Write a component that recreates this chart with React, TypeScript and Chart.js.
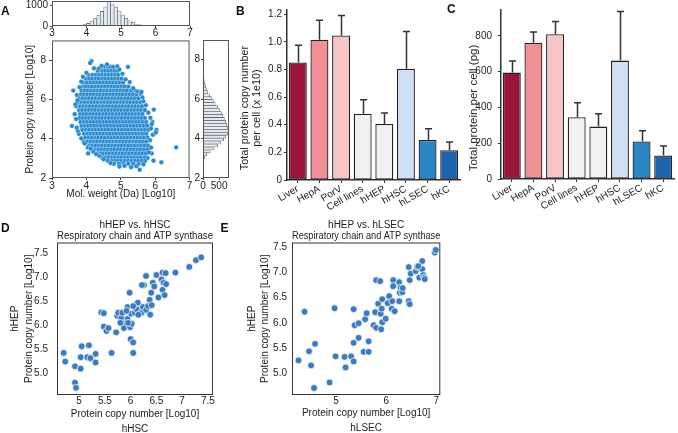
import React, { useEffect, useRef } from 'react';
import { Chart, registerables } from 'chart.js';

Chart.register(...registerables);

const FONT = "'Liberation Sans', Arial, Helvetica, sans-serif";
Chart.defaults.font.family = FONT;
Chart.defaults.font.size = 10;
Chart.defaults.color = '#222';

// ---------------- Panel A data ----------------
// rows of the scatter cloud: [copy number (Log10), mol. weight values (Log10)]
const cloudRows: [number, number[]][] = [
  [7.95, [4.15]],
  [7.85, [4.11]],
  [7.65, [4.52, 4.62, 4.70, 4.78, 5.21]],
  [7.45, [4.33, 4.46, 4.55, 4.64, 4.73, 4.82, 4.90]],
  [7.25, [4.06, 4.18, 4.28, 4.38, 4.47, 4.56, 4.65, 4.74, 4.83, 4.92]],
  [7.05, [3.98, 4.08, 4.17, 4.27, 4.36, 4.46, 4.55, 4.65, 4.74, 4.84, 4.93, 5.02]],
  [6.85, [3.92, 4.02, 4.12, 4.21, 4.31, 4.40, 4.50, 4.59, 4.69, 4.78, 4.88, 4.97, 5.07]],
  [6.65, [3.88, 3.97, 4.07, 4.16, 4.26, 4.35, 4.45, 4.54, 4.64, 4.73, 4.83, 4.92, 5.02, 5.11, 5.22]],
  [6.45, [3.62, 3.86, 3.95, 4.04, 4.14, 4.23, 4.33, 4.42, 4.52, 4.61, 4.71, 4.80, 4.90, 4.99, 5.08, 5.18, 5.30, 5.42]],
  [6.25, [3.84, 3.93, 4.02, 4.12, 4.21, 4.31, 4.40, 4.50, 4.59, 4.69, 4.78, 4.88, 4.97, 5.06, 5.16, 5.25, 5.35, 5.46]],
  [6.05, [3.80, 3.89, 3.99, 4.08, 4.18, 4.27, 4.37, 4.46, 4.56, 4.65, 4.75, 4.84, 4.94, 5.03, 5.13, 5.22, 5.32, 5.41, 5.51]],
  [5.85, [3.76, 3.86, 3.95, 4.05, 4.14, 4.24, 4.33, 4.43, 4.52, 4.62, 4.71, 4.81, 4.90, 5.00, 5.09, 5.19, 5.28, 5.38, 5.47, 5.57]],
  [5.65, [3.70, 3.82, 3.91, 4.01, 4.10, 4.20, 4.29, 4.39, 4.48, 4.58, 4.67, 4.77, 4.86, 4.96, 5.05, 5.15, 5.24, 5.34, 5.43, 5.53, 5.62]],
  [5.45, [3.79, 3.88, 3.98, 4.07, 4.17, 4.26, 4.36, 4.45, 4.55, 4.64, 4.74, 4.83, 4.93, 5.02, 5.12, 5.21, 5.31, 5.40, 5.50, 5.59, 5.70]],
  [5.25, [3.66, 3.82, 3.92, 4.01, 4.11, 4.20, 4.30, 4.39, 4.49, 4.58, 4.68, 4.77, 4.87, 4.96, 5.06, 5.15, 5.25, 5.34, 5.44, 5.53, 5.63]],
  [5.05, [3.80, 3.89, 3.99, 4.08, 4.18, 4.27, 4.37, 4.46, 4.56, 4.65, 4.75, 4.84, 4.94, 5.03, 5.13, 5.22, 5.32, 5.41, 5.51, 5.60, 5.70]],
  [4.85, [3.83, 3.93, 4.02, 4.12, 4.21, 4.31, 4.40, 4.50, 4.59, 4.69, 4.78, 4.88, 4.97, 5.07, 5.16, 5.26, 5.35, 5.45, 5.54, 5.64, 5.74, 5.92]],
  [4.65, [3.58, 3.86, 3.96, 4.05, 4.15, 4.24, 4.34, 4.43, 4.53, 4.62, 4.72, 4.81, 4.91, 5.00, 5.10, 5.19, 5.29, 5.38, 5.48, 5.57, 5.67, 5.77]],
  [4.45, [3.88, 3.99, 4.08, 4.18, 4.27, 4.37, 4.46, 4.56, 4.65, 4.75, 4.84, 4.94, 5.03, 5.13, 5.22, 5.32, 5.41, 5.51, 5.60, 5.70, 5.80, 6.04]],
  [4.25, [3.78, 3.93, 4.03, 4.12, 4.22, 4.31, 4.41, 4.50, 4.60, 4.69, 4.79, 4.88, 4.98, 5.07, 5.17, 5.26, 5.36, 5.45, 5.55, 5.64, 5.74, 5.98]],
  [4.05, [3.97, 4.07, 4.16, 4.26, 4.35, 4.45, 4.54, 4.64, 4.73, 4.83, 4.92, 5.02, 5.11, 5.21, 5.30, 5.40, 5.49, 5.59, 5.68, 5.78]],
  [3.85, [3.92, 4.03, 4.12, 4.22, 4.31, 4.41, 4.50, 4.60, 4.69, 4.79, 4.88, 4.98, 5.07, 5.17, 5.26, 5.36, 5.45, 5.55, 5.64, 5.74]],
  [3.65, [4.08, 4.18, 4.27, 4.37, 4.46, 4.56, 4.65, 4.75, 4.84, 4.94, 5.03, 5.13, 5.22, 5.32, 5.41, 5.51, 5.60, 5.70, 5.79]],
  [3.45, [4.15, 4.25, 4.35, 4.44, 4.54, 4.63, 4.73, 4.82, 4.92, 5.01, 5.11, 5.20, 5.30, 5.39, 5.49, 5.58, 5.68, 5.78]],
  [3.25, [4.05, 4.30, 4.40, 4.49, 4.59, 4.68, 4.78, 4.87, 4.97, 5.06, 5.16, 5.25, 5.35, 5.44, 5.54, 5.63, 5.73, 5.90]],
  [3.05, [4.45, 4.55, 4.64, 4.74, 4.83, 4.93, 5.02, 5.12, 5.21, 5.31, 5.40, 5.50, 5.59, 5.70]],
  [2.88, [4.62, 4.74, 4.84, 4.93, 5.03, 5.12, 5.22, 5.31, 5.41, 5.51, 5.62, 5.95]],
  [2.72, [4.80, 4.95, 5.08, 5.22, 5.36, 5.52]],
  [2.80, [6.18]],
  [3.56, [6.61]],
  [2.42, [5.55]],
];
// scattered points round the edge of the cloud: [mol. weight, copy number]
const cloudEdge: [number, number][] = [
  [3.68, 5.75], [3.74, 5.95], [3.75, 4.40], [3.85, 6.90], [3.90, 7.15], [4.00, 7.35], [4.22, 7.58], [4.36, 7.57],
  [4.90, 7.68], [4.96, 7.52], [5.05, 7.30], [5.14, 7.02], [5.26, 6.88], [5.36, 6.57], [5.50, 6.40], [5.58, 6.28],
  [5.63, 6.10], [5.66, 5.90], [5.73, 5.70], [5.80, 5.32], [5.86, 5.06], [5.90, 4.74], [5.88, 4.52], [5.93, 4.20],
  [5.85, 3.92], [5.88, 3.55], [5.82, 3.30], [5.78, 3.02], [5.71, 2.86], [5.45, 2.60], [5.30, 2.55], [5.11, 2.62],
  [4.96, 2.58], [4.70, 2.76], [4.50, 2.95], [4.36, 3.14], [4.20, 3.34], [4.04, 3.55], [3.95, 3.76], [3.85, 4.02],
  [3.72, 4.56], [3.70, 5.00], [3.72, 6.22], [3.80, 6.62], [4.44, 7.70], [4.60, 7.78], [5.60, 6.38], [5.96, 5.48],
  [6.02, 4.32], [4.12, 3.50], [4.28, 3.22], [5.66, 2.70],
];

const molBinCenters = [3.65, 3.75, 3.85, 3.95, 4.05, 4.15, 4.25, 4.35, 4.45, 4.55, 4.65, 4.75, 4.85, 4.95, 5.05, 5.15, 5.25, 5.35, 5.45, 5.55, 5.65, 5.75, 5.85, 5.95];
const molBinCounts = [5, 15, 35, 70, 130, 220, 360, 530, 720, 930, 1200, 1080, 940, 740, 540, 380, 260, 165, 100, 60, 35, 18, 9, 4];

const copyBinCenters = [2.75, 2.9, 3.05, 3.2, 3.35, 3.5, 3.65, 3.8, 3.95, 4.1, 4.25, 4.4, 4.55, 4.7, 4.85, 5.0, 5.15, 5.3, 5.45, 5.6, 5.75, 5.9, 6.05, 6.2, 6.35, 6.5, 6.65, 6.8, 6.95, 7.1, 7.25, 7.4];
const copyBinCounts = [8, 25, 55, 120, 220, 340, 450, 540, 640, 700, 760, 785, 770, 730, 700, 660, 620, 570, 510, 450, 380, 320, 260, 200, 150, 110, 80, 55, 35, 20, 10, 4];

const aXTicks = [3, 4, 5, 6, 7];
const aYTicks = [2, 4, 6, 8];
const topHistTicks = [0, 1000];
const rightHistTicks = [0, 500];

// ---------------- Panels B / C data ----------------
const cellTypes = ['Liver', 'HepA', 'PorV', 'Cell lines', 'hHEP', 'hHSC', 'hLSEC', 'hKC'];
const cellColors = ['#9b1538', '#f08f94', '#f8c5c7', '#f0f0f0', '#f0f0f0', '#d0e0f3', '#2a86c3', '#1e63ad'];
const copyTotal = [0.85, 1.015, 1.045, 0.48, 0.405, 0.805, 0.29, 0.215];
const copyTotalUpper = [0.975, 1.155, 1.19, 0.58, 0.485, 1.075, 0.37, 0.275];
const proteinMass = [595, 762, 810, 345, 293, 662, 210, 132];
const proteinMassUpper = [660, 822, 880, 427, 365, 936, 270, 185];
const bTicks = [0, 0.2, 0.4, 0.6, 0.8, 1.0, 1.2];
const cTicks = [0, 200, 400, 600, 800];

// ---------------- Panels D / E data ----------------
// [hHSC, hHEP]
const hscVsHep: [number, number][] = [
  [4.70, 5.42], [4.73, 5.24], [4.92, 5.14], [4.92, 4.80], [4.94, 4.69], [5.05, 5.56], [5.03, 5.33], [5.03, 5.09],
  [5.16, 5.33], [5.19, 5.58], [5.22, 5.31], [5.32, 5.40], [5.32, 5.22], [5.63, 5.42], [5.43, 6.27], [5.48, 6.25],
  [5.48, 5.97], [5.53, 5.88], [5.57, 5.94], [5.72, 5.85], [5.74, 6.20], [5.76, 6.26], [5.82, 6.15], [5.84, 6.26],
  [5.87, 6.04], [5.87, 5.94], [5.94, 6.38], [5.94, 6.13], [5.98, 6.68], [5.99, 5.96], [6.00, 5.71], [6.05, 5.64],
  [6.05, 5.42], [6.01, 6.24], [6.02, 6.03], [6.08, 6.26], [6.10, 6.42], [6.12, 6.33], [6.14, 6.47], [6.21, 6.26],
  [6.24, 6.38], [6.26, 6.84], [6.30, 6.32], [6.30, 7.03], [6.34, 6.40], [6.37, 6.53], [6.38, 6.22], [6.40, 6.68],
  [6.43, 6.89], [6.46, 6.81], [6.50, 7.05], [6.54, 6.58], [6.60, 6.96], [6.62, 7.10], [6.62, 6.74], [6.64, 6.89],
  [6.66, 6.63], [6.68, 7.09], [6.69, 6.86], [6.87, 7.10], [7.14, 7.22], [7.27, 7.36], [7.37, 7.42], [6.41, 6.42],
  [6.22, 6.84], [5.92, 6.30], [6.05, 6.40], [6.15, 6.22], [5.80, 6.05], [5.95, 6.05],
];
// [hLSEC, hHEP]
const lsecVsHep: [number, number][] = [
  [4.25, 5.25], [4.37, 6.22], [4.46, 5.43], [4.50, 5.15], [4.58, 5.58], [4.56, 4.70], [4.87, 4.81], [4.97, 6.29],
  [4.99, 5.33], [5.17, 5.32], [5.19, 5.11], [5.30, 5.33], [5.35, 5.23], [5.35, 5.60], [5.35, 6.27], [5.37, 5.95],
  [5.45, 5.99], [5.45, 5.70], [5.55, 5.42], [5.58, 6.07], [5.61, 6.19], [5.65, 5.63], [5.65, 5.42], [5.75, 5.95],
  [5.78, 6.21], [5.80, 6.85], [5.80, 5.90], [5.84, 6.38], [5.88, 6.83], [5.89, 6.18], [5.90, 5.87], [5.91, 6.28],
  [5.92, 6.47], [5.92, 6.01], [5.99, 6.08], [6.03, 6.39], [6.06, 6.53], [6.11, 6.28], [6.12, 6.43], [6.14, 6.85],
  [6.14, 6.73], [6.17, 6.23], [6.26, 6.81], [6.26, 6.43], [6.27, 6.60], [6.29, 6.70], [6.32, 6.61], [6.33, 6.69],
  [6.45, 7.11], [6.45, 6.43], [6.47, 6.37], [6.47, 6.85], [6.49, 6.98], [6.59, 7.03], [6.62, 7.11], [6.66, 6.90],
  [6.72, 7.23], [6.72, 7.07], [6.74, 6.95], [6.76, 6.90], [6.77, 6.87], [6.97, 7.40], [6.99, 7.45], [6.64, 7.13],
];
const dXTicks = [5, 5.5, 6, 6.5, 7, 7.5];
const dYTicks = [5.0, 5.5, 6.0, 6.5, 7.0, 7.5];
const eXTicks = [5, 6, 7];
const eYTicks = [5.0, 5.5, 6.0, 6.5, 7.0, 7.5];

// ---------------- helpers ----------------
const fixedTicks = (vals: number[]) => (s: any) => {
  s.ticks = vals.map((v) => ({ value: v }));
};
const fitW = (w: number) => (s: any) => {
  s.width = w;
  s.paddingTop = 0; s.paddingBottom = 0; s.paddingLeft = 0; s.paddingRight = 0;
};
const fitH = (h: number) => (s: any) => {
  s.height = h;
  s.paddingTop = 0; s.paddingBottom = 0; s.paddingLeft = 0; s.paddingRight = 0;
};

const framePlugin = (color: string, width = 1) => ({
  id: 'frame',
  afterDraw(chart: any) {
    const { ctx, chartArea } = chart;
    const { left, top, right, bottom } = chartArea;
    ctx.save();
    ctx.strokeStyle = color;
    ctx.lineWidth = width;
    ctx.strokeRect(left + 0.5, top + 0.5, right - left - 1, bottom - top - 1);
    ctx.restore();
  },
});

const errorBarPlugin = (upper: number[]) => ({
  id: 'errbars',
  afterDatasetsDraw(chart: any) {
    const { ctx } = chart;
    const meta = chart.getDatasetMeta(0);
    const yScale = chart.scales.y;
    ctx.save();
    ctx.strokeStyle = '#333';
    ctx.lineWidth = 1.5;
    meta.data.forEach((bar: any, i: number) => {
      const x = Math.round(bar.x) + 0.5;
      const yTop = yScale.getPixelForValue(upper[i]);
      ctx.beginPath();
      ctx.moveTo(x, bar.y);
      ctx.lineTo(x, yTop);
      ctx.moveTo(x - 3.5, yTop);
      ctx.lineTo(x + 3.5, yTop);
      ctx.stroke();
    });
    ctx.restore();
  },
});

const base = {
  responsive: false,
  animation: false as const,
  devicePixelRatio: 1,
  events: [] as any[],
};
const noLegend = { legend: { display: false }, tooltip: { enabled: false } };
const tickGrid = (len: number, color = '#444') => ({
  display: true, drawOnChartArea: false, drawTicks: true, tickLength: len, color, offset: false,
});
const noGrid = { display: false, drawTicks: false, drawOnChartArea: false };

// ---------------- chart configs ----------------
const cloudPoints = [
  ...cloudRows.flatMap(([y, xs]) => xs.map((x) => ({ x, y }))),
  ...cloudEdge.map(([x, y]) => ({ x, y })),
];

const aMainConfig = (): any => ({
  type: 'scatter',
  data: {
    datasets: [{
      data: cloudPoints, pointRadius: 2.4, pointBackgroundColor: '#2a8ad0',
      pointBorderColor: 'rgba(255,255,255,0.75)', pointBorderWidth: 0.45,
    }],
  },
  options: {
    ...base,
    layout: { padding: { left: 0, top: 4, right: 4, bottom: 0 } },
    plugins: noLegend,
    scales: {
      x: {
        type: 'linear', min: 3, max: 7, afterBuildTicks: fixedTicks(aXTicks), afterFit: fitH(23),
        border: { display: false }, grid: tickGrid(2), ticks: { padding: 0 },
        title: { display: true, text: 'Mol. weight (Da) [Log10]', padding: { top: 0, bottom: 1 }, font: { size: 10 } },
      },
      y: {
        type: 'linear', min: 2, max: 9, afterBuildTicks: fixedTicks(aYTicks), afterFit: fitW(52),
        border: { display: false }, grid: tickGrid(3), ticks: { padding: 3 },
        title: { display: true, text: 'Protein copy number [Log10]', padding: { top: 24, bottom: 0 }, font: { size: 10 } },
      },
    },
  },
  plugins: [framePlugin('#555')],
});

const aTopConfig = (): any => ({
  type: 'bar',
  data: {
    datasets: [{
      data: molBinCenters.map((c, i) => ({ x: c, y: molBinCounts[i] })),
      backgroundColor: '#e2e9f0', borderColor: '#555', borderWidth: 0.6,
      barPercentage: 1, categoryPercentage: 1,
    }],
  },
  options: {
    ...base,
    layout: { padding: { left: 0, top: 1, right: 4, bottom: 0 } },
    plugins: noLegend,
    scales: {
      x: {
        type: 'linear', min: 3, max: 7, offset: false, afterBuildTicks: fixedTicks(aXTicks), afterFit: fitH(14),
        border: { display: false }, grid: tickGrid(2), ticks: { padding: -1 },
      },
      y: {
        type: 'linear', min: 0, max: 1230, afterBuildTicks: fixedTicks(topHistTicks), afterFit: fitW(52),
        border: { display: false }, grid: tickGrid(2), ticks: { padding: 2, callback: (v: any) => String(v) },
      },
    },
  },
  plugins: [framePlugin('#555')],
});

const aRightConfig = (): any => ({
  type: 'bar',
  data: {
    datasets: [{
      data: copyBinCenters.map((c, i) => ({ y: c, x: copyBinCounts[i] })),
      backgroundColor: '#e2e9f0', borderColor: '#555', borderWidth: 0.6,
      barPercentage: 1, categoryPercentage: 1,
    }],
  },
  options: {
    ...base,
    indexAxis: 'y',
    layout: { padding: { left: 0, top: 4, right: 3, bottom: 0 } },
    plugins: noLegend,
    scales: {
      y: {
        type: 'linear', min: 2, max: 9, offset: false, afterBuildTicks: fixedTicks(aYTicks), afterFit: fitW(13),
        border: { display: false }, grid: tickGrid(2), ticks: { padding: 1 },
      },
      x: {
        type: 'linear', min: 0, max: 805, afterBuildTicks: fixedTicks(rightHistTicks), afterFit: fitH(23),
        border: { display: false }, grid: tickGrid(2), ticks: { padding: 0, callback: (v: any) => String(v) },
      },
    },
  },
  plugins: [framePlugin('#555')],
});

const barConfig = (
  values: number[], upper: number[], max: number, ticks: number[], fmt: (v: number) => string,
  yW: number, tickPad: number, rightPad: number, xH: number,
): any => ({
  type: 'bar',
  data: {
    labels: cellTypes,
    datasets: [{
      data: values, backgroundColor: cellColors, borderColor: '#222', borderWidth: 1.3,
      barPercentage: 0.83, categoryPercentage: 1, borderSkipped: false,
    }],
  },
  options: {
    ...base,
    layout: { padding: { left: 0, top: 10, right: rightPad, bottom: 0 } },
    plugins: noLegend,
    scales: {
      x: {
        afterFit: fitH(xH), grid: tickGrid(3, '#333'), border: { display: true, color: '#333', width: 1.5 },
        ticks: { minRotation: 30, maxRotation: 30, autoSkip: false, padding: 0, font: { size: 10 } },
      },
      y: {
        type: 'linear', min: 0, max, afterBuildTicks: fixedTicks(ticks), afterFit: fitW(yW),
        grid: tickGrid(3, '#333'), border: { display: true, color: '#333', width: 1.5 },
        ticks: { padding: tickPad, callback: (v: any) => fmt(Number(v)) },
      },
    },
  },
  plugins: [errorBarPlugin(upper)],
});

const scatterConfig = (
  pts: [number, number][], title: string[], xr: [number, number], yr: [number, number],
  xt: number[], yt: number[], xTitle: string[], yW: number, yTitlePad: number, yTickPad: number,
  xTitlePad: number, rightPad: number,
): any => ({
  type: 'scatter',
  data: {
    datasets: [{
      data: pts.map(([x, y]) => ({ x, y })), pointRadius: 3.4, pointBackgroundColor: '#3b7bbf',
      pointBorderColor: '#ffffff', pointBorderWidth: 0.7,
    }],
  },
  options: {
    ...base,
    layout: { padding: { left: 0, top: 0, right: rightPad, bottom: 0 } },
    plugins: {
      ...noLegend,
      title: {
        display: true, text: title, fullSize: false, color: '#222',
        padding: { top: 4.5, bottom: 1 }, font: { size: 10, weight: 'normal', lineHeight: 1.1 },
      },
    },
    scales: {
      x: {
        type: 'linear', min: xr[0], max: xr[1], afterBuildTicks: fixedTicks(xt), afterFit: fitH(45),
        grid: noGrid, border: { display: false }, ticks: { padding: 0, callback: (v: any) => String(v) },
        title: { display: true, text: xTitle, padding: { top: 0, bottom: xTitlePad }, font: { size: 10, lineHeight: 1.5 } },
      },
      y: {
        type: 'linear', min: yr[0], max: yr[1], afterBuildTicks: fixedTicks(yt), afterFit: fitW(yW),
        grid: noGrid, border: { display: false }, ticks: { padding: yTickPad, callback: (v: any) => Number(v).toFixed(1) },
        title: { display: true, text: ['hHEP', 'Protein copy number [Log10]'], padding: { top: yTitlePad, bottom: 0 }, font: { size: 10, lineHeight: 1.35 } },
      },
    },
  },
  plugins: [framePlugin('#333')],
});

// ---------------- components ----------------
function ChartCanvas({ left, top, width, height, make }: { left: number; top: number; width: number; height: number; make: () => any }) {
  const ref = useRef<HTMLCanvasElement>(null);
  useEffect(() => {
    const chart = new Chart(ref.current as HTMLCanvasElement, make());
    return () => chart.destroy();
  }, []);
  return (
    <canvas
      ref={ref}
      width={width}
      height={height}
      style={{ position: 'absolute', left, top, width, height }}
    />
  );
}

function Letter({ children, left, top }: { children: string; left: number; top: number }) {
  return (
    <div style={{ position: 'absolute', left, top, fontSize: 12, lineHeight: '12px', fontWeight: 'bold', color: '#111', fontFamily: FONT }}>
      {children}
    </div>
  );
}

// vertical (rotated) axis title centred on (cx, cy)
function VText({ children, cx, cy, size }: { children: string; cx: number; cy: number; size: number }) {
  const W = 200;
  const H = 14;
  return (
    <div
      style={{
        position: 'absolute', left: cx - W / 2, top: cy - H / 2, width: W, height: H,
        transform: 'rotate(-90deg)', transformOrigin: '50% 50%', textAlign: 'center',
        whiteSpace: 'nowrap', fontSize: size, lineHeight: `${H}px`, fontFamily: FONT, color: '#222',
      }}
    >
      {children}
    </div>
  );
}

export default function App() {
  return (
    <div style={{ position: 'fixed', left: 0, top: 0, width: 678, height: 433, overflow: 'hidden', background: '#fff' }}>
      <ChartCanvas left={0} top={0} width={194} height={40} make={aTopConfig} />
      <ChartCanvas left={0} top={36} width={194} height={165} make={aMainConfig} />
      <ChartCanvas left={190} top={36} width={42} height={165} make={aRightConfig} />
      <ChartCanvas
        left={230} top={0} width={232} height={212}
        make={() => barConfig(copyTotal, copyTotalUpper, 1.23, bTicks, (v) => (v === 0 ? '0' : v.toFixed(1)), 57, 2, 2, 32)}
      />
      <ChartCanvas
        left={460} top={0} width={218} height={212}
        make={() => barConfig(proteinMass, proteinMassUpper, 945, cTicks, (v) => String(v), 41, 6, 4, 33)}
      />
      <VText cx={244} cy={108} size={10.8}>Total protein copy number</VText>
      <VText cx={255.5} cy={108} size={10.8}>per cell  (x 1e10)</VText>
      <VText cx={473} cy={108} size={11.5}>Total protein per cell (pg)</VText>
      <ChartCanvas
        left={0} top={215} width={218} height={225}
        make={() => scatterConfig(hscVsHep, ['hHEP vs. hHSC', 'Respiratory chain and ATP synthase'],
          [4.57, 7.6], [4.54, 7.73], dXTicks, dYTicks, ['Protein copy number [Log10]', 'hHSC'], 57, 8.5, 9, 3.5, 5)}
      />
      <ChartCanvas
        left={220} top={215} width={225} height={225}
        make={() => scatterConfig(lsecVsHep, ['hHEP vs. hLSEC', 'Respiratory chain and ATP synthase'],
          [4.12, 7.08], [4.56, 7.6], eXTicks, eYTicks, ['Protein copy number [Log10]', 'hLSEC'], 72, 25, 5, 4.5, 3)}
      />
      <Letter left={1} top={5}>A</Letter>
      <Letter left={236} top={5}>B</Letter>
      <Letter left={447} top={2.5}>C</Letter>
      <Letter left={1} top={221.5}>D</Letter>
      <Letter left={220.5} top={221.5}>E</Letter>
    </div>
  );
}
